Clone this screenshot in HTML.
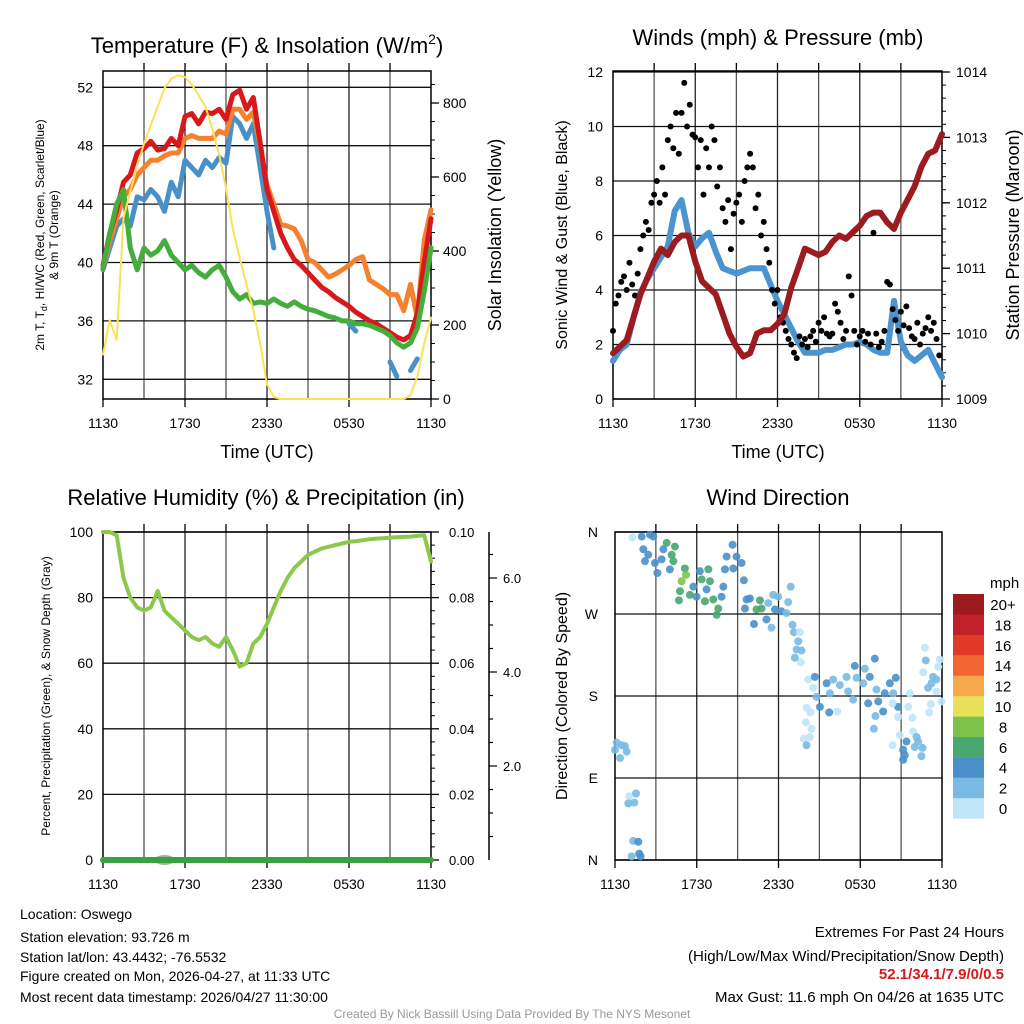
<!DOCTYPE html>
<html><head><meta charset="utf-8"><style>
body{margin:0;background:#fff}
svg{display:block;font-family:"Liberation Sans",sans-serif}
</style></head><body>
<svg id="s" width="1024" height="1024" viewBox="0 0 1024 1024" xmlns="http://www.w3.org/2000/svg">
<rect width="1024" height="1024" fill="#fff"/>
<g font-size="22" text-anchor="middle" fill="#000">
<text x="267" y="53">Temperature (F) &amp; Insolation (W/m<tspan font-size="14" dy="-9">2</tspan><tspan dy="9">)</tspan></text>
<text x="778" y="45">Winds (mph) &amp; Pressure (mb)</text>
<text x="266" y="505">Relative Humidity (%) &amp; Precipitation (in)</text>
<text x="778" y="505">Wind Direction</text>
</g>
<g font-size="18" text-anchor="middle">
<text x="267" y="458">Time (UTC)</text>
<text x="778" y="458">Time (UTC)</text>
<text transform="translate(44,235) rotate(-90)" font-size="12">2m T, T<tspan font-size="9" dy="3">d</tspan><tspan dy="-3">, HI/WC (Red, Green, Scarlet/Blue)</tspan></text>
<text transform="translate(58,235) rotate(-90)" font-size="12">&amp; 9m T (Orange)</text>
<text transform="translate(501,235) rotate(-90)">Solar Insolation (Yellow)</text>
<text transform="translate(567,235) rotate(-90)" font-size="16">Sonic Wind &amp; Gust (Blue, Black)</text>
<text transform="translate(1019,235) rotate(-90)">Station Pressure (Maroon)</text>
<text transform="translate(50,696) rotate(-90)" font-size="12">Percent, Precipitation (Green), &amp; Snow Depth (Gray)</text>
<text transform="translate(567,696) rotate(-90)" font-size="16">Direction (Colored By Speed)</text>
</g>
<g font-size="14" fill="#000">
<text x="20" y="919">Location: Oswego</text>
<text x="20" y="942">Station elevation: 93.726 m</text>
<text x="20" y="962">Station lat/lon: 43.4432; -76.5532</text>
<text x="20" y="981">Figure created on Mon, 2026-04-27, at 11:33 UTC</text>
<text x="20" y="1002">Most recent data timestamp: 2026/04/27 11:30:00</text>
</g>
<g font-size="15" text-anchor="end">
<text x="1004" y="937">Extremes For Past 24 Hours</text>
<text x="1004" y="961">(High/Low/Max Wind/Precipitation/Snow Depth)</text>
<text x="1004" y="979" fill="#d7191c" font-weight="bold">52.1/34.1/7.9/0/0.5</text>
<text x="1004" y="1002">Max Gust: 11.6 mph On 04/26 at 1635 UTC</text>
</g>
<text x="512" y="1018" font-size="12" fill="#999" text-anchor="middle">Created By Nick Bassill Using Data Provided By The NYS Mesonet</text>
<g id="plots"></g>
</svg>
<script>
const xTickLabels = ["1130","1730","2330","0530","1130"];
const tempRed = [39.8,42,43.6,45.5,46,47.5,47.8,48.3,47.7,47.8,48.5,48,50,50.2,49.5,50.3,50.2,50.5,49.8,51.5,51.8,50.5,51.3,48.2,45,43.5,42,41,40.2,39.8,39.3,38.8,38.3,38,37.6,37.3,37,36.6,36.3,36,35.8,35.5,35.2,34.9,34.7,35,36.5,40,43];
const tempOrange = [39.6,41.5,43,44.5,45,46,46.5,47,47,47.3,47.5,47.5,48.5,48.7,48.5,48.5,48.5,49,48.8,50.5,50.5,49.8,50.3,48,45.3,44,42.6,42.5,42.3,41.5,40.2,40,39.5,39,39.2,39.5,39.8,40.2,40.4,38.8,38.5,38.2,37.8,37.8,36.7,38.5,36.2,41.5,43.6];
const tempBlue = [39.5,41,42.5,43,42.5,44.5,44.3,45,44.5,43.5,45.5,44.5,47,46.5,46,47,46.5,47.2,46.8,50,49.5,48.5,49.5,46.5,43.5,41,null,null,null,null,null,null,null,null,null,null,35.8,35.3,null,null,null,null,33.2,32.2,null,32.6,33.4,null,null];
const dewGreen = [39.6,42,44,45,41,39.5,41,40.5,40.8,41.5,40.5,40,39.5,39.8,39.3,39,39.5,39.8,39,38,37.5,37.8,37.2,37.3,37.2,37.5,37.2,37,37.3,37,36.8,36.7,36.5,36.3,36.2,36,36,35.8,35.8,35.7,35.5,35.3,35,34.5,34.2,34.5,35.5,38,41];
const insolation = [120,213,160,490,560,630,690,740,790,840,865,875,870,850,820,790,730,660,570,460,380,310,240,150,40,5,0,0,0,0,0,0,0,0,0,0,0,0,0,0,0,0,0,0,0,10,60,150,220];
const windSpeed = [1.4,1.8,2,3,3.9,4.4,4.8,5.2,5.6,6.9,7.3,6.1,5.6,5.9,6.1,5.4,4.8,4.7,4.6,4.7,4.8,4.8,4.8,4.2,3.6,3.1,2.6,2.1,1.7,1.7,1.7,1.8,1.8,1.9,2,2,2.1,2,1.8,1.7,1.7,3.6,2.1,1.6,1.4,1.6,1.8,1.3,0.8];
const pressure = [1009.7,1009.8,1009.9,1010.25,1010.6,1010.85,1011.1,1011.3,1011.2,1011.4,1011.5,1011.5,1011.1,1010.8,1010.7,1010.6,1010.3,1010.0,1009.8,1009.65,1009.7,1010.0,1010.05,1010.05,1010.15,1010.3,1010.7,1011.0,1011.3,1011.25,1011.2,1011.25,1011.4,1011.5,1011.45,1011.55,1011.65,1011.8,1011.85,1011.85,1011.7,1011.6,1011.85,1012.05,1012.25,1012.55,1012.75,1012.8,1013.05];
const gusts = [2.5,3.5,3.8,4.3,4.5,4,5,4.2,3.8,4.6,5.5,6,6.5,6.2,7.2,7.5,8,7.2,8.5,7.5,9.5,10,9.2,10.5,9,10.5,11.6,10,10.8,9.7,9.6,8.5,9.5,7.5,9.2,8.5,10,9.5,7.8,8.5,7,6.5,7.3,5.5,6.8,7.2,7.5,6.5,8,8.5,9,8.5,7,7.5,6,6.5,5.5,5,4,3.5,4,3,2.8,2.5,2.2,2,1.7,1.5,2.3,2,2.2,1.9,2.3,2.5,2.1,2.8,2.5,3,2.4,2.3,2.4,3.5,3.2,2.8,2.2,2.5,4.5,3.8,2.5,2,2.3,2.5,2.1,2.4,2,6.1,2.4,1.9,2.1,2.5,4.3,4.2,3.3,2.9,2.5,3.2,2.7,3.4,2.6,2.3,2.2,2.8,2,2.4,2.6,3,2.5,2.8,2.2,1.6];
const humidity = [100,100,99,86,80,77,76,77,82,76,74,72,70,68,67,68,66,65,68,64,59,60,66,68,72,77,82,86,89,91,93,94,95,95.5,96,96.5,97,97.2,97.5,97.8,98,98.1,98.3,98.4,98.5,98.6,98.8,99,91];
const dirHours = [1.27,1.96,2.57,2.81,2.08,2.44,2.2,2.93,3.11,3.55,3.42,4.03,3.79,4.4,4.16,4.28,5.13,5.21,4.89,4.77,4.69,5.5,5.75,6.23,6.85,6.36,6.97,5.99,6.72,6.6,7.21,7.58,7.46,7.95,7.82,8.19,8.63,8.92,9.29,8.07,8.68,9.46,9.66,9.9,9.54,10.64,10.39,10.76,10.2,11.12,11.25,11.61,11.98,11.74,12.22,12.59,11.49,12.89,12.71,13.03,13.13,13.57,13.45,13.33,13.69,13.2,13.64,14.18,14.67,14.55,14.79,15.04,15.53,15.77,16.01,16.5,16.99,17.11,17.48,17.6,17.73,18.22,18.34,18.7,19.07,18.58,19.19,19.32,19.8,19.68,20.17,20.61,20.42,20.78,20.37,15.72,16.31,14.06,14.35,14.01,14.43,13.86,14.06,14.3,19.12,19,20.78,20.9,20.37,21.39,21.15,21.15,21.27,21.83,21.52,21.64,21.88,22.13,22.25,22,22.57,22.49,22.74,22.81,22.62,23.84,23.72,23.35,23.59,23.23,22.98,23.59,23.96,23.06,23.18,0.12,0.49,0.73,0,0.37,0.86,1.05,0.98,1.42,1.54,1.34,1.71,1.22,1.78,1.88];
const dirDegrees = [354,355,357,355,341,335,328,326,315,341,330,319,348,344,335,328,320,313,306,295,285,291,300,317,319,308,306,289,297,284,286,276,269,300,289,333,346,333,326,319,320,307,286,287,276,285,275,276,259,264,282,291,289,275,273,271,255,300,283,258,250,250,240,231,230,222,217,198,201,189,179,168,194,183,198,192,201,185,176,213,200,194,210,201,221,172,187,174,183,163,194,200,183,168,172,162,163,167,162,151,144,133,126,135,158,144,157,137,126,130,121,110,115,156,168,183,141,135,130,124,123,114,233,219,206,220,212,201,198,194,189,185,174,162,171,129,126,125,121,112,119,70,62,63,73,21,20,4,7,4];
const dirSpeeds = [1,5,5,5,5,5,5,5,5,5,5,5,7,7,7,7,7,9,9,7,7,7,5,5,7,7,7,5,5,7,7,7,7,5,5,5,5,5,5,5,5,5,5,5,5,7,7,7,5,5,3,3,3,5,5,3,3,3,3,3,3,1,3,3,3,3,1,1,5,1,3,5,5,3,3,3,3,3,3,5,3,3,3,5,5,5,3,5,5,5,5,5,3,5,1,5,1,1,1,1,1,1,3,1,3,3,1,1,1,5,5,5,5,1,1,1,1,3,3,3,3,3,1,3,1,1,1,3,3,3,3,1,1,1,1,3,3,3,3,3,3,1,3,3,3,3,5,3,5,5];
const speedBins = ["0","2","4","6","8","10","12","14","16","18","20+"];
const speedColors = ["#bfe5f8","#7ab9e3","#4a90c8","#48a670","#7cc24a","#e8e05a","#f7a84a","#f26430","#e03a2c","#c0202a","#9b1b1e"];

const NS="http://www.w3.org/2000/svg";
const root=document.getElementById('plots');
function mk(tag,attrs,parent){const e=document.createElementNS(NS,tag);for(const k in attrs)e.setAttribute(k,attrs[k]);(parent||root).appendChild(e);return e;}
function txt(x,y,s,size,anchor,parent){const e=mk('text',{x:x,y:y,'font-size':size,'text-anchor':anchor},parent);e.textContent=s;return e;}
function stepH(i){return i*0.5;}
function pathFrom(vals,xf,yf,hf){let d='',pen=false;vals.forEach((v,i)=>{if(v===null){pen=false;return;}d+=(pen?'L':'M')+xf(hf(i)).toFixed(1)+' '+yf(v).toFixed(1);pen=true;});return d;}

function frame(P,name,hLines){
  const g=mk('g',{});
  
  
  for(let h=3;h<24;h+=3){const x=P.x0+h/24*(P.x1-P.x0);const l=mk('line',{x1:x,x2:x,y1:P.y0,y2:P.y1,stroke:(h%6?'#555':'#222'),'stroke-width':1.3},g);
    const t=mk('line',{x1:x,x2:x,y1:P.y0-8,y2:P.y0,stroke:'#000','stroke-width':1.3},g);}
  hLines.forEach(y=>{const l=mk('line',{x1:P.x0,x2:P.x1,y1:y,y2:y,stroke:'#111','stroke-width':1.3},g);});
  const r=mk('rect',{x:P.x0,y:P.y0,width:P.x1-P.x0,height:P.y1-P.y0,fill:'none',stroke:'#000','stroke-width':1.5},g);
  
  for(let i=0;i<xTickLabels.length;i++){const x=P.x0+i*6/24*(P.x1-P.x0);const t=txt(x,P.y1+29,xTickLabels[i],14,'middle',g);
    const tk=mk('line',{x1:x,x2:x,y1:P.y1,y2:P.y1+8,stroke:'#000','stroke-width':1.3},g);}
  return g;
}
function line(d,color,w,name){const p=mk('path',{d:d,fill:'none',stroke:color,'stroke-width':w,'stroke-linejoin':'round','stroke-linecap':'round'});return p;}

const P1={x0:103,x1:431,y0:71,y1:399};
const x1=h=>P1.x0+h/24*(P1.x1-P1.x0);
const yT=T=>87.3+(52-T)*14.6;
const yW=W=>399-W*0.37;
const tempTicks=[32,36,40,44,48,52];
frame(P1,'temperature-panel',tempTicks.map(yT));
tempTicks.forEach(t=>{const e=txt(P1.x0-10,yT(t)+5,String(t),14,'end');});
[0,200,400,600,800].forEach(w=>{const e=txt(P1.x1+12,yW(w)+5,String(w),14,'start');
 const k=mk('line',{x1:P1.x1,x2:P1.x1+8,y1:yW(w),y2:yW(w),stroke:'#000','stroke-width':1.3});});
for(let w=50;w<870;w+=50){if(w%200){const k=mk('line',{x1:P1.x1,x2:P1.x1+4,y1:yW(w),y2:yW(w),stroke:'#000','stroke-width':1});}}
line(pathFrom(tempBlue,x1,yT,stepH),'#4a90c8',5,'hi-wc-line');
line(pathFrom(tempOrange,x1,yT,stepH),'#f5812e',5,'9m-temp-line');
line(pathFrom(tempRed,x1,yT,stepH),'#d7191c',5,'2m-temp-line');
line(pathFrom(dewGreen,x1,yT,stepH),'#44ad3c',5,'dewpoint-line');
line(pathFrom(insolation,x1,yW,stepH),'#fde05a',2,'insolation-line');

const P2={x0:613,x1:942,y0:71,y1:399};
const x2=h=>P2.x0+h/24*(P2.x1-P2.x0);
const yV=v=>399-v*27.25;
const yP=p=>399-(p-1009)*65.4;
const windTicks=[0,2,4,6,8,10,12];
frame(P2,'wind-panel',windTicks.map(yV));
windTicks.forEach(t=>{const e=txt(P2.x0-10,yV(t)+5,String(t),14,'end');});
[1009,1010,1011,1012,1013,1014].forEach(p=>{const e=txt(P2.x1+14,yP(p)+5,String(p),14,'start');
 const k=mk('line',{x1:P2.x1,x2:P2.x1+8,y1:yP(p),y2:yP(p),stroke:'#000','stroke-width':1.3});});
for(let p=1009.2;p<1014;p+=0.2){const k=mk('line',{x1:P2.x1,x2:P2.x1+4,y1:yP(p),y2:yP(p),stroke:'#000','stroke-width':1});}
line(pathFrom(windSpeed,x2,yV,stepH),'#4a94d0',6,'wind-speed-line');
const gg=mk('g',{});


gusts.forEach((v,i)=>{const c=mk('circle',{cx:x2(i*0.2),cy:yV(v),r:3,fill:'#000'},gg);});
line(pathFrom(pressure,x2,yP,stepH),'#9b1b1e',6,'pressure-line');

const P3={x0:103,x1:431,y0:532,y1:860};
const x3=h=>P3.x0+h/24*(P3.x1-P3.x0);
const yR=r=>860-r*3.28;
const rhTicks=[0,20,40,60,80,100];
frame(P3,'humidity-panel',rhTicks.map(yR));
rhTicks.forEach(t=>{const e=txt(P3.x0-10,yR(t)+5,String(t),14,'end');});
["0.00","0.02","0.04","0.06","0.08","0.10"].forEach((s,i)=>{const y=yR(i*20);const e=txt(P3.x1+18,y+5,s,13,'start');
 const k=mk('line',{x1:P3.x1,x2:P3.x1+8,y1:y,y2:y,stroke:'#000','stroke-width':1.3});});
for(let r=4;r<100;r+=4){if(r%20){const k=mk('line',{x1:P3.x1,x2:P3.x1+4,y1:yR(r),y2:yR(r),stroke:'#000','stroke-width':1});}}
const snowAx=mk('line',{x1:489,x2:489,y1:532,y2:860,stroke:'#000','stroke-width':1.5});


for(let s=0.5;s<7;s+=0.5){const y=860-s*47;const major=(s%2===0);const k=mk('line',{x1:489,x2:489+(major?8:4),y1:y,y2:y,stroke:'#000','stroke-width':1.2});
 if(major){const e=txt(503,y+5,s.toFixed(1),13,'start');}}
const snow=mk('ellipse',{cx:x3(4.5),cy:860,rx:10,ry:5,fill:'#aaa'});


line('M'+P3.x0+' 860L'+P3.x1+' 860','#3aa040',6,'precipitation-line');
line(pathFrom(humidity,x3,yR,stepH),'#8cc84b',4,'humidity-line');

const P4={x0:615,x1:942,y0:532,y1:860};
const x4=h=>P4.x0+h/24*(P4.x1-P4.x0);
const yD=d=>860-d/360*328;
const dirLabels=["N","E","S","W","N"];
frame(P4,'direction-panel',[0,90,180,270,360].map(yD));
dirLabels.forEach((s,i)=>{const e=txt(P4.x0-17,yD(i*90)+5,s,14,'end');});
const dg=mk('g',{});


dirHours.forEach((h,i)=>{const bin=Math.min(10,Math.floor(dirSpeeds[i]/2));const c=mk('circle',{cx:x4(h),cy:yD(dirDegrees[i]),r:4,fill:speedColors[bin],'fill-opacity':0.9},dg);});
const cb=mk('g',{});


const cbt=txt(990,588,'mph',15,'start',cb);


speedBins.forEach((s,i)=>{const y=594+(10-i)*20.4;const r=mk('rect',{x:953,y:y,width:31,height:20.6,fill:speedColors[i]},cb);
 const t=txt(1003,y+16,s,15,'middle',cb);});
</script>
</body></html>
